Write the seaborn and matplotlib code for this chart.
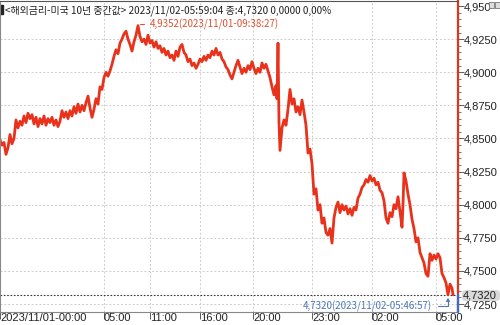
import matplotlib
matplotlib.use("Agg")
import matplotlib.pyplot as plt
import matplotlib.transforms as mtransforms
import seaborn as sns
import pandas as pd
from matplotlib.patches import FancyBboxPatch, Rectangle

# time index (chart bar position) and yield values
idx = [0, 2, 4, 6, 8, 10, 12, 14, 16, 18, 20, 22, 24, 26, 28, 30, 32, 34, 36, 38,
       40, 42, 44, 46, 48, 50, 52, 54, 56, 58, 60, 62, 64, 66, 68, 70, 72, 74, 76, 78,
       80, 82, 84, 86, 88, 90, 92, 94, 96, 98, 100,
       102, 104, 106, 108, 110, 112, 114, 116, 118, 120, 122, 124, 126, 128, 130, 132, 134, 136, 138,
       140, 142, 144, 146, 148, 150, 152, 154, 156, 158, 160, 162, 164, 166, 168, 170, 172, 174, 176,
       178, 180, 182, 184, 186, 188, 190, 192, 194, 196, 198, 200,
       202, 204, 206, 208, 210, 212, 214, 216, 218, 220, 222, 224, 226, 228, 230, 232, 234, 236, 238,
       240, 242, 244, 246, 248, 250, 252, 254, 256, 258, 260, 262, 264, 266, 268, 270, 272, 274, 276,
       277, 278, 279, 280,
       282, 284, 286, 288, 290, 292, 294, 296, 298, 300, 302, 304, 306, 308, 310, 312, 314, 316, 318,
       320, 322, 324, 326, 328, 330, 332, 334, 336, 338, 340,
       342, 344, 346, 348, 350, 352, 354, 356, 358, 360, 362, 364, 366, 368, 370, 372, 374, 376, 378,
       380, 382, 384, 386, 388, 390, 392, 394, 396, 398, 400, 402,
       403, 404, 406, 408, 410, 412, 414, 416, 418, 420, 422, 424, 426, 428, 430, 432, 434, 436, 438,
       440, 442, 444, 446, 448, 450, 452, 453]
yld = [4.849, 4.845, 4.847, 4.838, 4.843, 4.853, 4.846, 4.850, 4.864, 4.858, 4.863, 4.860, 4.867, 4.862, 4.869, 4.865, 4.868, 4.861, 4.866, 4.859,
       4.865, 4.861, 4.867, 4.860, 4.865, 4.862, 4.866, 4.860, 4.864, 4.859, 4.863, 4.871, 4.866, 4.870, 4.865, 4.871, 4.867, 4.874, 4.869, 4.876,
       4.870, 4.875, 4.871, 4.877, 4.882, 4.873, 4.866, 4.872, 4.880, 4.876, 4.889,
       4.887, 4.896, 4.900, 4.897, 4.901, 4.906, 4.912, 4.917, 4.914, 4.922, 4.925, 4.929, 4.931, 4.925, 4.921, 4.916, 4.923, 4.928, 4.9352,
       4.927, 4.923, 4.925, 4.921, 4.928, 4.922, 4.924, 4.919, 4.923, 4.918, 4.920, 4.915, 4.918, 4.913, 4.916, 4.911, 4.913, 4.909, 4.916,
       4.912, 4.919, 4.921, 4.915, 4.913, 4.908, 4.910, 4.905, 4.907, 4.903, 4.906, 4.910,
       4.908, 4.912, 4.909, 4.913, 4.911, 4.916, 4.913, 4.918, 4.913, 4.915, 4.910, 4.908, 4.904, 4.902, 4.898, 4.895, 4.900, 4.905, 4.909,
       4.904, 4.899, 4.903, 4.900, 4.905, 4.902, 4.908, 4.903, 4.899, 4.903, 4.900, 4.907, 4.903, 4.906, 4.901, 4.896, 4.889, 4.883, 4.890,
       4.880, 4.922, 4.862, 4.841,
       4.858, 4.864, 4.860, 4.872, 4.887, 4.876, 4.880, 4.870, 4.874, 4.868, 4.879, 4.870, 4.860, 4.839, 4.842, 4.831, 4.808, 4.812, 4.796,
       4.800, 4.786, 4.790, 4.779, 4.777, 4.782, 4.771, 4.790, 4.798, 4.802, 4.794,
       4.800, 4.796, 4.799, 4.793, 4.797, 4.792, 4.798, 4.796, 4.805, 4.808, 4.813, 4.815, 4.819, 4.817, 4.822, 4.818, 4.820, 4.815, 4.817,
       4.811, 4.809, 4.803, 4.790, 4.786, 4.794, 4.791, 4.800, 4.797, 4.806, 4.795, 4.783,
       4.800, 4.824, 4.818, 4.808, 4.800, 4.789, 4.782, 4.772, 4.775, 4.764, 4.760, 4.756, 4.748, 4.746, 4.763, 4.758, 4.762, 4.759, 4.763,
       4.760, 4.748, 4.745, 4.741, 4.732, 4.740, 4.737, 4.732]

x_tick_pos = [0, 104, 150, 200, 253, 312, 372, 436]
x_tick_labels = ["2023/11/01-00:00", "05:00", "11:00", "16:00", "20:00", "23:00", "02:00", "05:00"]
y_ticks = [4.725, 4.75, 4.775, 4.8, 4.825, 4.85, 4.875, 4.9, 4.925, 4.95]
y_tick_labels = ["4,7250", "4,7500", "4,7750", "4,8000", "4,8250", "4,8500", "4,8750", "4,9000", "4,9250", "4,950"]

title = "<해외금리-미국 10년 중간값> 2023/11/02-05:59:04 종:4,7320 0,0000 0,00%"
max_label = "4,9352(2023/11/01-09:38:27)"
min_label = "4,7320(2023/11/02-05:46:57)"
close_val = 4.732
close_label = "4,7320"

sns.set_theme(style="white")
plt.rcParams['font.family'] = ['Noto Sans CJK KR', 'DejaVu Sans']
tick_font = ['Liberation Sans Narrow', 'Liberation Sans', 'DejaVu Sans']

fig = plt.figure(figsize=(5, 3.25), dpi=100)
ax = fig.add_axes([0.0, 13/325, 458/500, 311/325])

df = pd.DataFrame({"t": idx, "y": yld})
sns.lineplot(data=df, x="t", y="y", ax=ax, color="#e8321c", lw=2.0)

ax.set_xlim(0, 458)
ax.set_ylim(4.719, 4.9538)
ax.set_xlabel("")
ax.set_ylabel("")

# grid
for xp in x_tick_pos[1:]:
    ax.axvline(xp, color="#cccccc", lw=0.7, ls=(0, (2, 2)), zorder=0)
for yv in y_ticks[:-1]:
    ax.axhline(yv, color="#cccccc", lw=0.7, ls=(0, (2, 2)), zorder=0)

# ticks
ax.set_xticks(x_tick_pos)
ax.set_xticklabels(x_tick_labels, ha="left", fontsize=8, color="#222222", family=tick_font)
offset = mtransforms.ScaledTranslation(1.5 / 100, 0, fig.dpi_scale_trans)
for lab in ax.get_xticklabels():
    lab.set_transform(lab.get_transform() + offset)
ax.tick_params(axis="x", direction="out", length=5, width=0.6, color="#444444", pad=-4, bottom=True)
ax.yaxis.tick_right()
ax.set_yticks(y_ticks)
ax.set_yticklabels(y_tick_labels, fontsize=8, color="#222222", family=tick_font)
ax.set_yticks([4.725 + 0.005 * i for i in range(46)], minor=True)
ax.tick_params(axis="y", which="major", direction="out", length=4, width=0.6, color="#444444", pad=0.5, right=True)
ax.tick_params(axis="y", which="minor", direction="out", length=2, width=0.5, color="#444444", right=True)

for s in ["left", "top", "bottom"]:
    ax.spines[s].set_color("#888888")
    ax.spines[s].set_linewidth(0.8)
ax.spines["top"].set_color("#555555")
ax.spines["right"].set_color("#e8321c")
ax.spines["right"].set_linewidth(1.6)

# close line
ax.axhline(close_val, color="#333333", lw=0.8, ls=(0, (1.5, 1.5)), zorder=1)
ax.plot([458, 458], [4.719, close_val], color="#3a6fc8", lw=1.6, clip_on=False, zorder=5)

# title
ax.text(0.012, 0.985, title, transform=ax.transAxes, fontsize=7.2, va="top", ha="left", color="#222222")
ax.add_patch(Rectangle((0.0, 0.958), 0.006, 0.03, transform=ax.transAxes, color="#222222", clip_on=False))

# max annotation
ax.annotate(max_label, xy=(138, 4.9352), xytext=(150, 4.9365), fontsize=7, color="#e05030",
            va="center", ha="left",
            arrowprops=dict(arrowstyle="-", color="#e05030", lw=0.8,
                            connectionstyle="angle,angleA=0,angleB=90,rad=0"))
# min annotation
ax.annotate(min_label, xy=(448, close_val), xytext=(432, 4.7235), fontsize=7, color="#4a78b8",
            va="center", ha="right",
            arrowprops=dict(arrowstyle="-|>", color="#4a78b8", lw=0.8, mutation_scale=5,
                            connectionstyle="angle,angleA=0,angleB=90,rad=0"))

# close price box and window icons
bx = fig.add_axes([0, 0, 1, 1], facecolor="none")
bx.set_xlim(0, 500); bx.set_ylim(325, 0); bx.axis("off")
bx.add_patch(FancyBboxPatch((462, 290), 38, 11, boxstyle="round,pad=0,rounding_size=4",
                            fc="#d9d9d9", ec="none"))
bx.text(497, 296, close_label, fontsize=8, ha="right", va="center", color="#222222", family=tick_font)
bx.add_patch(Rectangle((488.5, 2), 5, 5.5, fc="#dddddd", ec="#777777", lw=0.6))
bx.add_patch(Rectangle((494.5, 2), 5, 5.5, fc="#dddddd", ec="#777777", lw=0.6))

fig.savefig("out.png", dpi=100)
